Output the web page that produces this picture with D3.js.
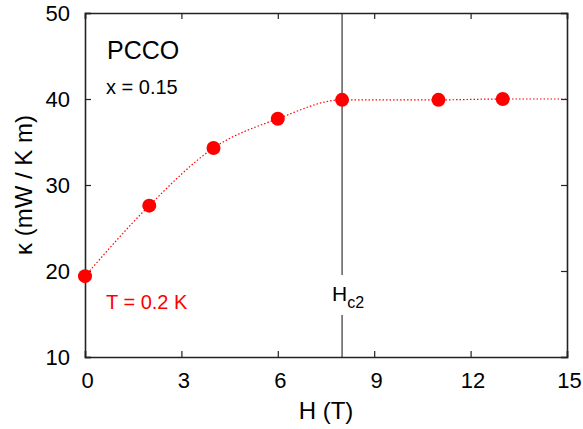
<!DOCTYPE html>
<html>
<head>
<meta charset="utf-8">
<script src="https://cdn.jsdelivr.net/npm/d3@7"></script>
<style>
  html, body { margin: 0; padding: 0; background: #fff; }
  svg text { font-family: "Liberation Sans", Arial, Helvetica, sans-serif; }
</style>
</head>
<body>
<svg id="chart" width="583" height="429"></svg>
<script>
// field H (T) and thermal conductivity kappa (mW / K m)
const fieldH = [0, 2, 4, 6, 8, 11, 13];
const kappa = [19.4, 27.6, 34.3, 37.7, 39.9, 39.9, 40.0];
// dotted guide curve
const guideH = [0, 2, 4, 6, 8, 11, 13, 15];
const guideK = [19.4, 27.6, 34.3, 37.7, 39.9, 39.9, 40.0, 40.0];
const xTicks = [0, 3, 6, 9, 12, 15];
const yTicks = [10, 20, 30, 40, 50];
const hc2 = 8;

const W = 583, H = 429;
const m = { left: 85, right: 16, top: 13, bottom: 72 };
const svg = d3.select('#chart');

const x = d3.scaleLinear().domain([0, 15]).range([m.left, W - m.right]);
const y = d3.scaleLinear().domain([10, 50]).range([H - m.bottom, m.top]);

const ink = '#222';
const minorX = d3.range(0, 16, 1);
const minorY = d3.range(10, 51, 5);

// axes: bottom/left with labels, top/right mirrored ticks inward
function tickAxis(axisFn, scale, ticks, len, labels) {
  return axisFn(scale).tickValues(ticks).tickSize(-len).tickPadding(15)
    .tickFormat(labels ? d3.format('d') : '');
}

const gx = svg.append('g').attr('transform', `translate(0,${y(10)})`);
gx.call(tickAxis(d3.axisBottom, x, minorX, 3, false));
gx.call(tickAxis(d3.axisBottom, x, xTicks, 6, true));
const gxt = svg.append('g').attr('transform', `translate(0,${y(50)})`);
gxt.call(tickAxis(d3.axisTop, x, minorX, 3, false));
gxt.call(tickAxis(d3.axisTop, x, xTicks, 6, false));
const gy = svg.append('g').attr('transform', `translate(${x(0)},0)`);
gy.call(tickAxis(d3.axisLeft, y, minorY, 3, false));
gy.call(tickAxis(d3.axisLeft, y, yTicks, 6, true));
const gyr = svg.append('g').attr('transform', `translate(${x(15)},0)`);
gyr.call(tickAxis(d3.axisRight, y, minorY, 3, false));
gyr.call(tickAxis(d3.axisRight, y, yTicks, 6, false));

svg.selectAll('.domain').attr('stroke', ink).attr('stroke-width', 1.6);
svg.selectAll('.tick line').attr('stroke', ink).attr('stroke-width', 1.2);
svg.selectAll('.tick text').attr('fill', '#000').attr('font-size', 22);
gx.selectAll('.tick text').attr('dx', 2);

// Hc2 line with gap for label
const labelTop = 275, labelBot = 315;
svg.append('line')
  .attr('x1', x(hc2)).attr('x2', x(hc2))
  .attr('y1', y(50)).attr('y2', labelTop)
  .attr('stroke', ink).attr('stroke-width', 1.1);
svg.append('line')
  .attr('x1', x(hc2)).attr('x2', x(hc2))
  .attr('y1', labelBot).attr('y2', y(10))
  .attr('stroke', ink).attr('stroke-width', 1.1);
const hl = svg.append('text')
  .attr('x', 332).attr('y', 301)
  .attr('font-size', 21).attr('fill', '#000');
hl.append('tspan').text('H');
hl.append('tspan').attr('font-size', 16).attr('dy', 7).text('c2');

// dotted guide
const guide = guideH.map((h, i) => [h, guideK[i]]);
svg.append('path')
  .attr('d', d3.line().x((d) => x(d[0])).y((d) => y(d[1])).curve(d3.curveMonotoneX)(guide))
  .attr('fill', 'none')
  .attr('stroke', '#f00')
  .attr('stroke-width', 1.2)
  .attr('stroke-dasharray', '1.5,2');

// data points
svg.append('g').selectAll('circle')
  .data(fieldH.map((h, i) => ({ h, k: kappa[i] })))
  .join('circle')
  .attr('cx', (d) => x(d.h))
  .attr('cy', (d) => y(d.k))
  .attr('r', 7)
  .attr('fill', '#f00');

// annotations
svg.append('text').attr('x', 107).attr('y', 59)
  .attr('font-size', 25).attr('fill', '#000').text('PCCO');
svg.append('text').attr('x', 106).attr('y', 94)
  .attr('font-size', 20).attr('fill', '#000').text('x = 0.15');
svg.append('text').attr('x', 106).attr('y', 309)
  .attr('font-size', 20).attr('fill', '#f00').text('T = 0.2 K');

// axis titles
svg.append('text')
  .attr('x', (x(0) + x(15)) / 2).attr('y', 419)
  .attr('text-anchor', 'middle').attr('font-size', 24).attr('fill', '#000')
  .text('H (T)');
svg.append('text')
  .attr('transform', `translate(32,${(y(10) + y(50)) / 2}) rotate(-90)`)
  .attr('text-anchor', 'middle').attr('font-size', 24).attr('fill', '#000')
  .text('κ (mW / K m)');
</script>
</body>
</html>
